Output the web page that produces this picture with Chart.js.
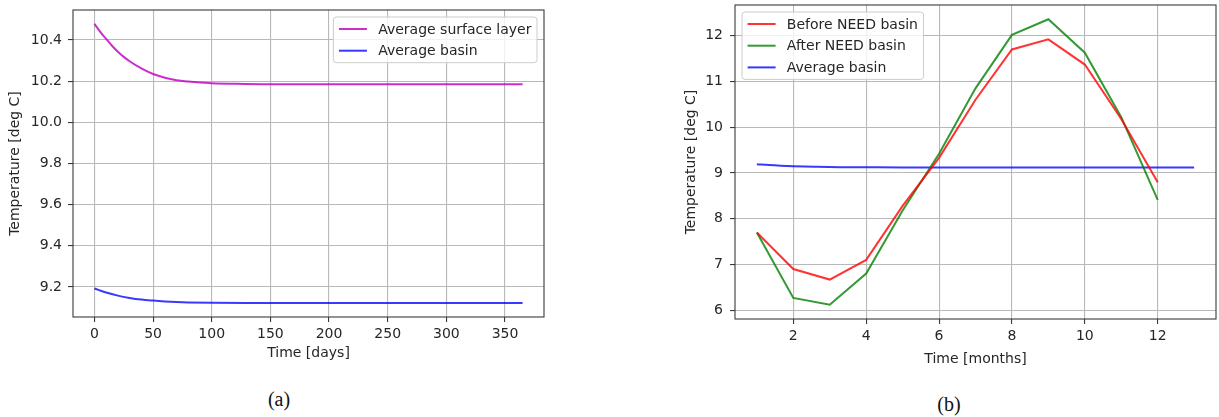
<!DOCTYPE html>
<html>
<head>
<meta charset="utf-8">
<script src="https://cdn.jsdelivr.net/npm/chart.js@4.4.1/dist/chart.umd.min.js"></script>
<style>
  html, body { margin: 0; padding: 0; background: #fff; }
  body { width: 1219px; height: 417px; position: relative; overflow: hidden; }
  canvas { position: absolute; top: 0; }
  #chartDays { left: 0; }
  #chartMonths { left: 660px; }
  .caption {
    position: absolute;
    font-family: 'Liberation Serif', 'DejaVu Serif', serif;
    font-size: 20px;
    color: #111;
    transform: translate(-50%, -50%);
    white-space: nowrap;
  }
</style>
</head>
<body>
<canvas id="chartDays" width="560" height="375"></canvas>
<canvas id="chartMonths" width="559" height="375"></canvas>
<div class="caption" style="left:279px; top:399px;">(a)</div>
<div class="caption" style="left:949px; top:404px;">(b)</div>

<script>
// ---- (a) daily averages over one year ----
const dayTicks = [0, 50, 100, 150, 200, 250, 300, 350];
const tempTicksDays = [9.2, 9.4, 9.6, 9.8, 10.0, 10.2, 10.4];

const surfaceDays = [0, 5, 10, 15, 20, 25, 30, 40, 50, 60, 70, 80, 90, 100, 120, 150, 200, 250, 300, 365];
const surfaceTemp = [10.478, 10.440, 10.405, 10.372, 10.343, 10.318, 10.297, 10.262, 10.235, 10.217,
                     10.205, 10.198, 10.193, 10.190, 10.187, 10.185, 10.185, 10.185, 10.185, 10.185];

const basinDays = [0, 10, 20, 30, 40, 50, 60, 70, 80, 100, 130, 200, 250, 300, 365];
const basinTemp = [9.193, 9.173, 9.158, 9.147, 9.139, 9.134, 9.130, 9.127, 9.125, 9.123,
                   9.122, 9.122, 9.122, 9.122, 9.122];

// ---- (b) monthly values ----
const months = [1, 2, 3, 4, 5, 6, 7, 8, 9, 10, 11, 12];
const beforeNeed = [7.70, 6.90, 6.67, 7.10, 8.28, 9.33, 10.60, 11.70, 11.92, 11.37, 10.18, 8.80];
const afterNeed  = [7.70, 6.27, 6.12, 6.80, 8.18, 9.42, 10.85, 12.02, 12.36, 11.63, 10.22, 8.41];
const monthTicks = [2, 4, 6, 8, 10, 12];
const tempTicksMonths = [6, 7, 8, 9, 10, 11, 12];
const daysPerYear = 365;

const INK = '#262626';
Chart.defaults.font.family = "'DejaVu Sans', sans-serif";
Chart.defaults.font.size = 14;
Chart.defaults.color = INK;

const points = (xs, ys) => xs.map((x, i) => ({ x, y: ys[i] }));

// axis limits with 5 % margins around the data, like the usual plotting defaults
function paddedRange(values, frac = 0.05) {
  const lo = Math.min(...values), hi = Math.max(...values);
  const m = (hi - lo) * frac;
  return [lo - m, hi + m];
}

// spines and an in-axes legend box
const frameAndLegend = {
  id: 'frameAndLegend',
  afterDatasetsDraw(chart, args, opts) {
    const { ctx, chartArea: a } = chart;
    ctx.save();
    ctx.strokeStyle = '#3a3a3a';
    ctx.lineWidth = 1.1;
    ctx.strokeRect(a.left, a.top, a.right - a.left, a.bottom - a.top);

    const items = chart.data.datasets.map(d => ({ text: d.label, color: d.borderColor }));
    ctx.font = "14px 'DejaVu Sans', sans-serif";
    const tw = Math.max(...items.map(it => ctx.measureText(it.text).width));
    const pad = 5.6, handle = 28, gap = 11.2, row = 21.7;
    const w = pad + handle + gap + tw + pad;
    const h = 24 + (items.length - 1) * row;
    const x = opts.side === 'left' ? a.left + 7 : a.right - 7 - w;
    const y = a.top + 7;

    ctx.beginPath();
    ctx.roundRect(x, y, w, h, 3);
    ctx.fillStyle = 'rgba(255,255,255,0.8)';
    ctx.fill();
    ctx.strokeStyle = '#cccccc';
    ctx.lineWidth = 1;
    ctx.stroke();

    items.forEach((it, i) => {
      const cy = y + 12 + i * row;
      ctx.beginPath();
      ctx.moveTo(x + pad, cy);
      ctx.lineTo(x + pad + handle, cy);
      ctx.strokeStyle = it.color;
      ctx.lineWidth = 2;
      ctx.stroke();
      ctx.fillStyle = INK;
      ctx.textBaseline = 'middle';
      ctx.textAlign = 'left';
      ctx.fillText(it.text, x + pad + handle + gap, cy + 1);
    });
    ctx.restore();
  }
};

function fixedAxis({ values, range, digits, title, titlePad, extent, tickPad }) {
  return {
    type: 'linear',
    min: range[0],
    max: range[1],
    bounds: 'data',
    afterBuildTicks: s => { s.ticks = values.map(v => ({ value: v })); },
    afterFit: s => {
      if (s.isHorizontal()) s.height = extent; else s.width = extent;
      s.paddingTop = s.paddingBottom = s.paddingLeft = s.paddingRight = 0;
    },
    ticks: {
      callback: v => Number(v).toFixed(digits),
      padding: tickPad,
      color: INK,
      autoSkip: false,
      maxRotation: 0,
      font: { size: 14 }
    },
    grid: {
      color: '#b8b8b8',
      lineWidth: 1.1,
      drawTicks: true,
      tickLength: 5,
      tickColor: '#3a3a3a',
      tickWidth: 1.1
    },
    border: { display: false },
    title: { display: true, text: title, color: INK, font: { size: 14 }, padding: titlePad }
  };
}

const lineStyle = (label, color, data, smooth) => ({
  label, data,
  borderColor: color,
  backgroundColor: color,
  borderWidth: 2,
  pointRadius: 0,
  pointHoverRadius: 0,
  fill: false,
  tension: 0,
  cubicInterpolationMode: smooth ? 'monotone' : 'default'
});

const baseOptions = {
  responsive: false,
  animation: false,
  devicePixelRatio: 1,
  events: [],
  parsing: true
};

// (a)
new Chart(document.getElementById('chartDays'), {
  type: 'line',
  data: {
    datasets: [
      lineStyle('Average surface layer', 'rgba(191,0,191,0.82)', points(surfaceDays, surfaceTemp), true),
      lineStyle('Average basin', 'rgba(0,0,255,0.78)', points(basinDays, basinTemp), true)
    ]
  },
  options: {
    ...baseOptions,
    layout: { padding: { left: 0, top: 10, right: 16, bottom: 0 } },
    plugins: { legend: { display: false }, tooltip: { enabled: false }, frameAndLegend: { side: 'right' } },
    scales: {
      x: fixedAxis({
        values: dayTicks, range: paddedRange([...surfaceDays, ...basinDays]), digits: 0,
        title: 'Time [days]', titlePad: { top: 0, bottom: 13.3 }, extent: 58, tickPad: 4
      }),
      y: fixedAxis({
        values: tempTicksDays, range: paddedRange([...surfaceTemp, ...basinTemp]), digits: 1,
        title: 'Temperature [deg C]', titlePad: { top: 6.6, bottom: 0 }, extent: 73, tickPad: 6
      })
    }
  },
  plugins: [frameAndLegend]
});

// (b)
const basinMonths = basinDays.map(d => 1 + d * 12 / daysPerYear);
new Chart(document.getElementById('chartMonths'), {
  type: 'line',
  data: {
    datasets: [
      lineStyle('Before NEED basin', 'rgba(255,0,0,0.8)', points(months, beforeNeed), false),
      lineStyle('After NEED basin', 'rgba(0,128,0,0.8)', points(months, afterNeed), false),
      lineStyle('Average basin', 'rgba(0,0,255,0.78)', points(basinMonths, basinTemp), true)
    ]
  },
  options: {
    ...baseOptions,
    layout: { padding: { left: 0, top: 5, right: 3, bottom: 0 } },
    plugins: { legend: { display: false }, tooltip: { enabled: false }, frameAndLegend: { side: 'left' } },
    scales: {
      x: fixedAxis({
        values: monthTicks, range: paddedRange([...months, ...basinMonths]), digits: 0,
        title: 'Time [months]', titlePad: { top: 0, bottom: 7.6 }, extent: 56, tickPad: 4
      }),
      y: fixedAxis({
        values: tempTicksMonths, range: paddedRange([...beforeNeed, ...afterNeed, ...basinTemp]), digits: 0,
        title: 'Temperature [deg C]', titlePad: { top: 23.3, bottom: 0 }, extent: 75, tickPad: 7
      })
    }
  },
  plugins: [frameAndLegend]
});
</script>
</body>
</html>
